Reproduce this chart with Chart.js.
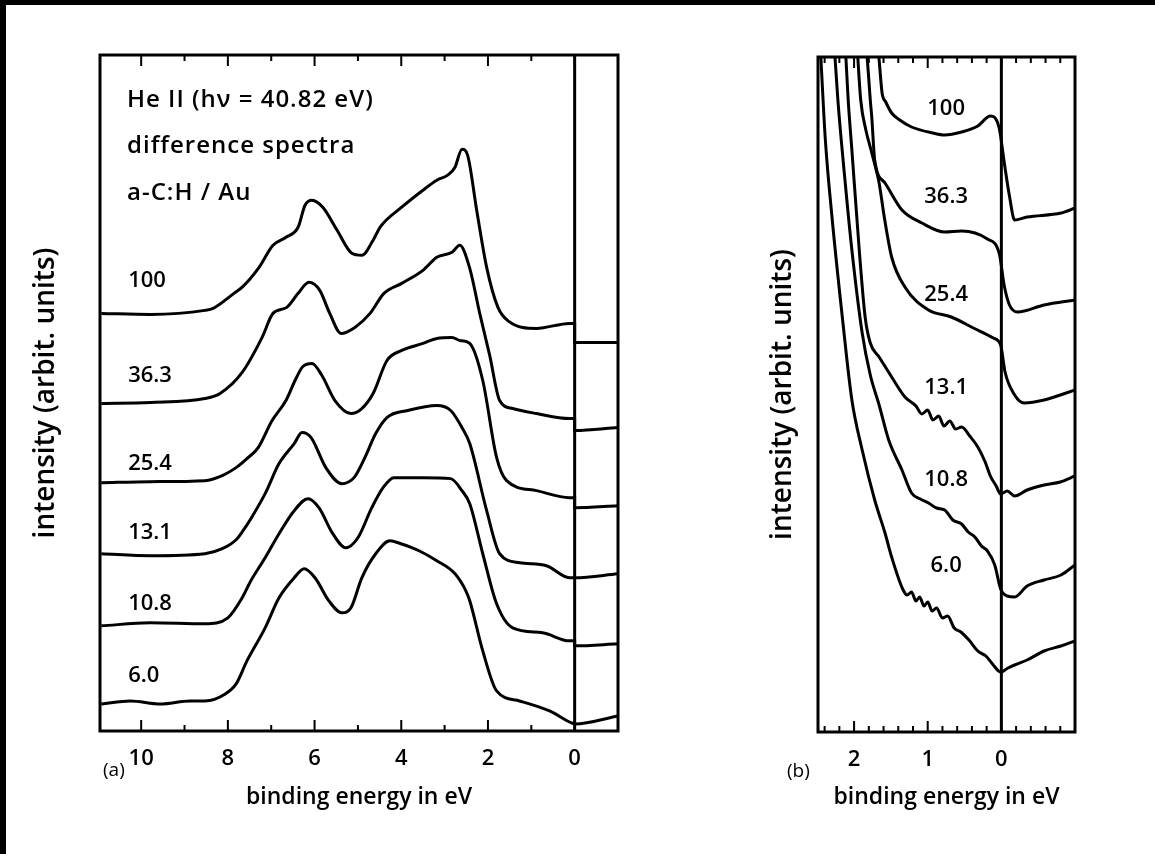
<!DOCTYPE html>
<html>
<head>
<meta charset="utf-8">
<script src="https://cdn.jsdelivr.net/npm/chart.js@4.4.1/dist/chart.umd.min.js"></script>
<style>
  body { margin: 0; background: #fff; width: 1155px; height: 854px; position: relative; overflow: hidden; }
  .edgeTop { position: absolute; left: 0; top: 0; width: 1155px; height: 5px; background: #000; }
  .edgeLeft { position: absolute; left: 0; top: 0; width: 6px; height: 854px; background: #000; }
  #boxA { position: absolute; left: 0; top: 0; }
  #boxB { position: absolute; left: 740px; top: 0; }
</style>
</head>
<body>
<div id="boxA"><canvas id="chartA" width="650" height="854"></canvas></div>
<div id="boxB"><canvas id="chartB" width="415" height="854"></canvas></div>
<div class="edgeTop"></div>
<div class="edgeLeft"></div>
<script>
// deposition values labelling each spectrum
const seriesNames = ['100', '36.3', '25.4', '13.1', '10.8', '6.0'];

// panel (a): binding energy (eV) and intensity (arb. units)
const eA100 = [10.92, 9.79, 8.53, 8.34, 7.86, 7.65, 7.28, 6.96, 6.66, 6.38, 6.22, 6.06, 5.81, 5.48, 5.14, 4.91, 4.65, 4.49, 3.99, 3.50, 3.18, 2.93, 2.76, 2.60, 2.47, 2.26, 2.03, 1.77, 1.52, 0.88, 0.12, 0, 0, -1.0];
const iA100 = [417, 416, 420, 422, 437, 444, 463, 485, 493, 503, 525, 530, 523, 500, 477, 475, 490, 503, 523, 540, 550, 555, 563, 581, 575, 520, 463, 423, 409, 402, 407, 407, 388, 388];
const eA363 = [10.92, 9.79, 8.53, 8.18, 7.67, 7.21, 6.96, 6.64, 6.38, 6.13, 5.88, 5.65, 5.39, 5.07, 4.72, 4.40, 3.99, 3.50, 3.18, 2.83, 2.65, 2.42, 2.19, 1.96, 1.73, 1.43, 0.88, 0.12, 0, 0, -1.0];
const iA363 = [327, 328, 332, 337, 358, 393, 417, 423, 437, 448, 440, 417, 397, 403, 417, 437, 447, 460, 473, 478, 485, 462, 417, 375, 330, 322, 317, 312, 312, 300, 303];
const eA254 = [10.92, 9.79, 8.53, 8.13, 7.81, 7.56, 7.30, 6.98, 6.66, 6.45, 6.27, 6.06, 5.83, 5.53, 5.16, 4.91, 4.65, 4.33, 3.99, 3.50, 3.18, 2.83, 2.65, 2.42, 2.12, 1.80, 1.57, 0.88, 0.12, 0, 0, -1.0];
const iA254 = [248, 249, 250, 255, 263, 272, 283, 310, 330, 350, 364, 367, 355, 330, 317, 322, 337, 370, 380, 387, 392, 393, 390, 387, 350, 273, 250, 240, 233, 233, 223, 225];
const eA131 = [10.92, 9.79, 8.53, 8.13, 7.81, 7.65, 7.47, 7.14, 6.82, 6.47, 6.29, 6.08, 5.74, 5.37, 5.09, 4.84, 4.59, 4.33, 3.85, 3.18, 2.86, 2.60, 2.42, 2.03, 1.73, 1.27, 0.65, 0.12, 0, -1.0];
const iA131 = [177, 175, 177, 182, 191, 200, 212, 237, 267, 287, 298, 293, 263, 247, 253, 273, 297, 313, 320, 325, 320, 303, 287, 220, 177, 168, 165, 153, 153, 157];
const eA108 = [10.92, 9.79, 8.53, 8.00, 7.67, 7.47, 7.14, 6.82, 6.47, 6.15, 5.90, 5.58, 5.28, 5.00, 4.68, 4.42, 4.17, 3.50, 2.86, 2.60, 2.42, 2.12, 1.80, 1.43, 0.74, 0.12, 0, 0, -1.0];
const iA108 = [105, 108, 107, 113, 133, 150, 173, 197, 220, 232, 223, 197, 183, 193, 223, 243, 253, 253, 252, 240, 227, 177, 127, 103, 98, 90, 90, 85, 87];
const eA60 = [10.92, 10.25, 9.56, 8.87, 8.53, 8.06, 7.81, 7.56, 7.14, 6.82, 6.47, 6.24, 5.99, 5.67, 5.37, 5.16, 4.91, 4.59, 4.26, 4.01, 3.59, 3.18, 2.76, 2.51, 2.42, 2.12, 1.80, 1.27, 0.58, 0.07, 0, -1.0];
const iA60 = [27, 30, 27, 30, 30, 37, 47, 70, 103, 133, 153, 162, 153, 130, 118, 123, 153, 177, 190, 187, 180, 170, 157, 140, 130, 80, 40, 30, 20, 8, 7, 15];

// panel (b): close-up near the Fermi level
const eB100 = [1.69, 1.66, 1.62, 1.57, 1.49, 1.38, 1.22, 0.93, 0.77, 0.54, 0.32, 0.15, 0.03, -0.04, -0.11, -0.18, -0.35, -0.81, -1.0];
const iB100 = [692, 672, 639, 630, 619, 612, 605, 599, 597, 600, 606, 616, 604, 569, 536, 512, 515, 519, 524];
const eB363 = [1.85, 1.82, 1.78, 1.76, 1.72, 1.58, 1.35, 1.08, 0.77, 0.54, 0.19, 0.03, -0.04, -0.11, -0.22, -0.58, -1.0];
const iB363 = [692, 672, 632, 615, 572, 549, 522, 509, 500, 501, 493, 479, 446, 427, 420, 427, 432];
const eB254 = [1.96, 1.91, 1.84, 1.77, 1.70, 1.66, 1.59, 1.49, 1.31, 0.99, 0.68, 0.38, 0.11, 0.01, -0.05, -0.18, -0.31, -0.58, -1.0];
const iB254 = [687, 632, 602, 582, 562, 549, 515, 475, 445, 422, 415, 404, 394, 387, 360, 337, 329, 332, 342];
const eB131 = [2.12, 2.08, 2.03, 1.93, 1.85, 1.78, 1.66, 1.49, 1.31, 1.16, 1.08, 1.00, 0.93, 0.85, 0.78, 0.70, 0.62, 0.54, 0.43, 0.32, 0.22, 0.15, 0.07, 0.01, -0.08, -0.18, -0.35, -0.58, -0.80, -1.0];
const iB131 = [687, 632, 582, 482, 415, 389, 375, 355, 335, 326, 318, 322, 312, 316, 306, 311, 303, 305, 296, 285, 270, 256, 246, 238, 241, 236, 242, 247, 250, 256];
const eB108 = [2.27, 2.22, 2.12, 2.03, 1.89, 1.78, 1.66, 1.53, 1.35, 1.22, 1.10, 0.99, 0.88, 0.77, 0.66, 0.54, 0.45, 0.36, 0.27, 0.19, 0.09, 0.01, -0.08, -0.18, -0.35, -0.58, -0.81, -1.0];
const iB108 = [687, 632, 549, 482, 399, 357, 327, 292, 262, 239, 233, 229, 224, 222, 212, 208, 200, 195, 186, 181, 167, 143, 136, 135, 146, 152, 157, 167];
const eB60 = [2.46, 2.39, 2.30, 2.16, 2.03, 1.89, 1.72, 1.58, 1.49, 1.34, 1.28, 1.22, 1.16, 1.11, 1.05, 1.00, 0.94, 0.88, 0.80, 0.73, 0.64, 0.55, 0.44, 0.32, 0.21, 0.11, 0.01, -0.09, -0.18, -0.35, -0.58, -0.81, -1.0];
const iB60 = [687, 592, 515, 415, 332, 282, 232, 199, 175, 143, 137, 140, 131, 135, 126, 130, 121, 124, 114, 116, 104, 100, 92, 81, 76, 67, 60, 64, 67, 72, 81, 86, 91];

// axis ticks
const majorA = [10, 8, 6, 4, 2, 0];
const minorA = [9, 7, 5, 3, 1];
const majorB = [2, 1, 0];
const minorB = [2.4, 2.2, 1.8, 1.6, 1.4, 1.2, 0.8, 0.6, 0.4, 0.2, -0.2, -0.4, -0.6, -0.8];

const notesA = ['He II (h\u03bd = 40.82 eV)', 'difference spectra', 'a-C:H / Au'];

const FONT = '"Open Sans", "DejaVu Sans", sans-serif';

function zip(xs, ys) {
  return xs.map((x, i) => ({ x: x, y: ys[i] }));
}

function makeSets(pairs) {
  return pairs.map((p, i) => ({
    label: seriesNames[i],
    data: zip(p[0], p[1]),
    borderColor: '#000',
    borderWidth: 3,
    pointRadius: 0,
    cubicInterpolationMode: 'monotone',
    fill: false
  }));
}

// frame, inward ticks, Fermi level line and text
const framePlugin = {
  id: 'frame',
  afterDatasetsDraw(chart, args, o) {
    const ctx = chart.ctx;
    const a = chart.chartArea;
    const x = chart.scales.x;
    ctx.save();
    ctx.strokeStyle = '#000';
    ctx.lineWidth = 2;
    const tick = (v, len) => {
      const px = x.getPixelForValue(v);
      ctx.beginPath();
      ctx.moveTo(px, a.bottom);
      ctx.lineTo(px, a.bottom - len);
      ctx.moveTo(px, a.top);
      ctx.lineTo(px, a.top + len);
      ctx.stroke();
    };
    o.major.forEach(v => tick(v, 11));
    o.minor.forEach(v => tick(v, 6));

    ctx.lineWidth = 3;
    const x0 = x.getPixelForValue(0);
    ctx.beginPath();
    ctx.moveTo(x0, a.top);
    ctx.lineTo(x0, a.bottom);
    ctx.stroke();
    ctx.strokeRect(a.left, a.top, a.right - a.left, a.bottom - a.top);

    ctx.fillStyle = '#000';
    ctx.font = '600 22px ' + FONT;
    ctx.textBaseline = 'middle';
    ctx.textAlign = o.labelAlign;
    const lx = x.getPixelForValue(o.labelAt);
    chart.data.datasets.forEach((ds, i) => {
      const pts = chart.getDatasetMeta(i).data;
      let best = 0;
      ds.data.forEach((d, j) => {
        if (Math.abs(d.x - o.labelAt) < Math.abs(ds.data[best].x - o.labelAt)) best = j;
      });
      const p = o.labelAlign === 'left' ? pts[0] : pts[best];
      ctx.fillText(ds.label, lx, p.y - o.lift[i]);
    });

    ctx.textAlign = 'left';
    ctx.font = '600 24px ' + FONT;
    ctx.letterSpacing = '1px';
    (o.notes || []).forEach((t, k) => {
      ctx.fillText(t, a.left + 27, a.top + 45 + k * 46.5);
    });
    ctx.letterSpacing = '0px';

    ctx.font = '19px ' + FONT;
    ctx.fillText(o.tag, a.left + o.tagDx, a.bottom + 40);
    ctx.restore();
  }
};

function makeOptions(cfg) {
  return {
    responsive: false,
    animation: false,
    layout: { padding: { top: cfg.top, right: cfg.right, left: 0, bottom: 0 } },
    plugins: {
      legend: { display: false },
      tooltip: { enabled: false },
      frame: cfg.frame
    },
    scales: {
      x: {
        type: 'linear',
        reverse: true,
        min: cfg.xmin,
        max: cfg.xmax,
        afterBuildTicks: s => { s.ticks = cfg.major.map(v => ({ value: v })); },
        afterFit: s => { s.height = cfg.axisH; },
        grid: { display: false, drawTicks: false },
        border: { display: false },
        ticks: {
          autoSkip: false,
          maxRotation: 0,
          padding: 15,
          color: '#000',
          font: { family: FONT, size: 22, weight: '600' },
          callback: v => String(v)
        },
        title: {
          display: true,
          text: 'binding energy in eV',
          color: '#000',
          font: { family: FONT, size: 23, weight: '600' },
          padding: { top: 0, bottom: 43 }
        }
      },
      y: {
        min: 0,
        max: 675,
        afterFit: s => { s.width = cfg.axisW; },
        grid: { display: false, drawTicks: false },
        border: { display: false },
        ticks: { display: false },
        title: {
          display: true,
          text: 'intensity (arbit. units)',
          color: '#000',
          font: { family: FONT, size: 28, weight: '600' },
          padding: { top: cfg.titlePad, bottom: 0 }
        }
      }
    }
  };
}

new Chart(document.getElementById('chartA'), {
  type: 'line',
  data: {
    datasets: makeSets([[eA100, iA100], [eA363, iA363], [eA254, iA254], [eA131, iA131], [eA108, iA108], [eA60, iA60]])
  },
  options: makeOptions({
    top: 55, right: 32, xmin: -1.0, xmax: 10.95, axisH: 123, axisW: 100, titlePad: 29,
    major: majorA,
    frame: {
      major: majorA, minor: minorA, labelAt: 10.3, labelAlign: 'left',
      lift: [33, 28, 19, 21, 22, 28], notes: notesA, tag: '(a)', tagDx: 3
    }
  }),
  plugins: [framePlugin]
});

new Chart(document.getElementById('chartB'), {
  type: 'line',
  data: {
    datasets: makeSets([[eB100, iB100], [eB363, iB363], [eB254, iB254], [eB131, iB131], [eB108, iB108], [eB60, iB60]])
  },
  options: makeOptions({
    top: 57, right: 80, xmin: -1.0, xmax: 2.49, axisH: 122, axisW: 78, titlePad: 26,
    major: majorB,
    frame: {
      major: majorB, minor: minorB, labelAt: 0.75, labelAlign: 'center',
      lift: [26, 35, 22, 38, 30, 50], notes: [], tag: '(b)', tagDx: -31
    }
  }),
  plugins: [framePlugin]
});
</script>
</body>
</html>
